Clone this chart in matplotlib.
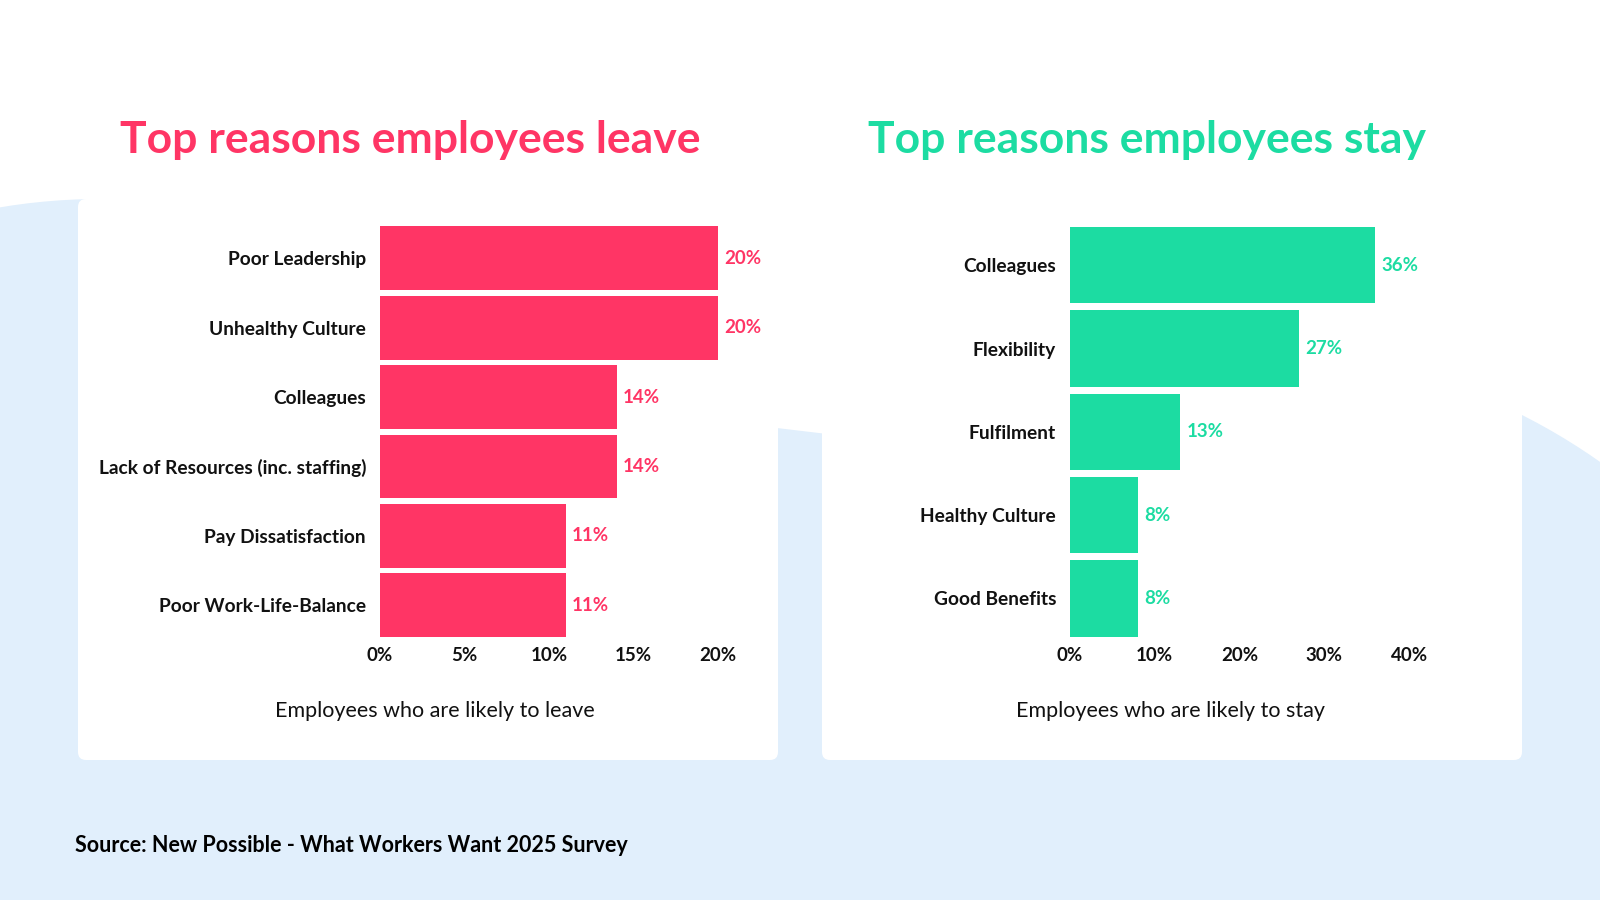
import matplotlib.pyplot as plt
from matplotlib.patches import Ellipse, Rectangle, FancyBboxPatch, Polygon

plt.rcParams['font.family'] = ['Lato', 'DejaVu Sans']

# data
leave_labels = ['Poor Leadership', 'Unhealthy Culture', 'Colleagues',
                'Lack of Resources (inc. staffing)', 'Pay Dissatisfaction',
                'Poor Work-Life-Balance']
leave_values = [20, 20, 14, 14, 11, 11]
leave_ticks = [0, 5, 10, 15, 20]

stay_labels = ['Colleagues', 'Flexibility', 'Fulfilment', 'Healthy Culture',
               'Good Benefits']
stay_values = [36, 27, 13, 8, 8]
stay_ticks = [0, 10, 20, 30, 40]

PINK = '#FF3565'
GREEN = '#1CDCA2'
BLUE = '#E1EFFC'
INK = '#111111'

fig = plt.figure(figsize=(16, 9), dpi=100)

# background in pixel coordinates
bg = fig.add_axes([0, 0, 1, 1])
bg.set_xlim(0, 1600)
bg.set_ylim(900, 0)
bg.axis('off')
bg.add_patch(Ellipse((100, 900), 2 * 650, 2 * 701, color=BLUE, lw=0))
bg.add_patch(Ellipse((1250, 1000), 2 * 624, 2 * 650, color=BLUE, lw=0))
bg.add_patch(Polygon([(760, 426), (840, 435.5), (840, 900), (760, 900)],
                     closed=True, color=BLUE, lw=0))
bg.add_patch(Rectangle((0, 700), 1600, 200, color=BLUE, lw=0))
for x0 in (78, 822):
    bg.add_patch(FancyBboxPatch((x0 + 8, 199 + 8), 700 - 16, 561 - 16,
                                boxstyle='round,pad=8', fc='white', ec='none'))

bg.text(410, 140, 'Top reasons employees leave', color=PINK, fontsize=32,
        fontweight='bold', ha='center', va='center')
bg.text(1147, 140, 'Top reasons employees stay', color=GREEN, fontsize=32,
        fontweight='bold', ha='center', va='center')
bg.text(435, 711, 'Employees who are likely to leave', color=INK, fontsize=15.5,
        ha='center', va='center')
bg.text(1171, 711, 'Employees who are likely to stay', color=INK, fontsize=15.5,
        ha='center', va='center')
bg.text(75, 846, 'Source: New Possible - What Workers Want 2025 Survey',
        color='black', fontsize=15.5, fontweight='bold', ha='left', va='center')


def panel(rect, labels, values, ticks, xmax, color, height):
    ax = fig.add_axes(rect)
    ax.set_facecolor('none')
    pos = list(range(len(labels)))
    ax.barh(pos, values, height=height, color=color)
    for p, v in zip(pos, values):
        ax.text(v + xmax * 0.018, p, f'{v}%', color=color, fontsize=13.5,
                fontweight='bold', va='center', ha='left')
    ax.set_xlim(0, xmax)
    ax.set_ylim(len(labels) - 0.5, -0.5)
    ax.set_yticks(pos)
    ax.set_yticklabels(labels, fontsize=13.8, fontweight='bold', color=INK)
    ax.set_xticks(ticks)
    ax.set_xticklabels([f'{t}%' for t in ticks], fontsize=13.5,
                       fontweight='bold', color=INK)
    ax.tick_params(axis='x', length=0, pad=5)
    ax.tick_params(axis='y', length=0, pad=10)
    for s in ax.spines.values():
        s.set_visible(False)
    return ax


panel([0.2375, 0.2888, 0.21125, 0.4627], leave_labels, leave_values,
      leave_ticks, 20, PINK, 0.92)
panel([0.66875, 0.2888, 0.2119, 0.4627], stay_labels, stay_values,
      stay_ticks, 40, GREEN, 0.917)

plt.savefig('out.png', dpi=100)
